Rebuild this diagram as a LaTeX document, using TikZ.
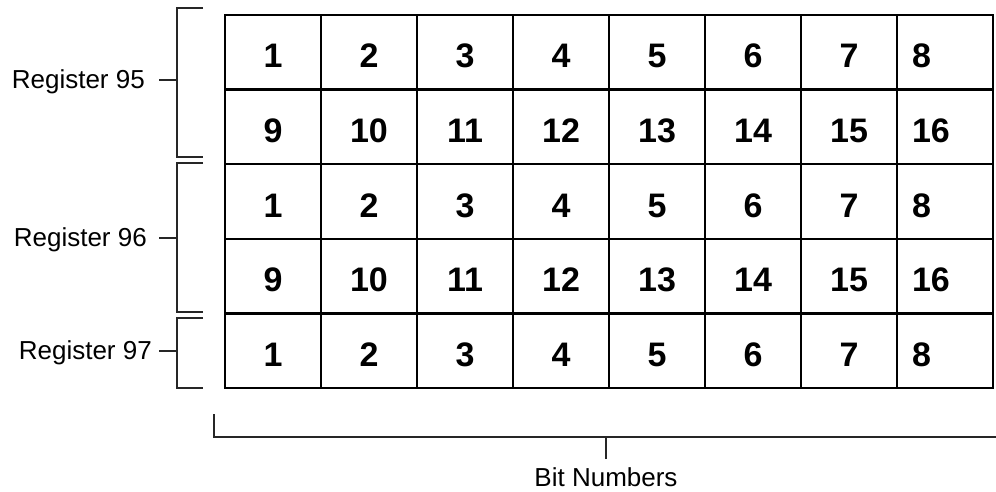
\documentclass[tikz,border=0pt]{standalone}
\usepackage{fontspec}
\setmainfont{Liberation Sans}
\usepackage{tikz}
\usetikzlibrary{positioning,calc}

\begin{document}
\begin{tikzpicture}[
  x=1pt, y=-1pt,
  cell/.style ={draw, line width=2.4pt, minimum width=96pt, minimum height=74.6pt,
                inner sep=0pt, text height=31pt, text depth=0pt,
                font=\fontsize{34}{40}\selectfont\bfseries},
  lastcell/.style={cell, text width=66pt, align=left, inner xsep=15pt},
  reglbl/.style={inner ysep=0pt, anchor=east, yshift=-2pt, font=\fontsize{26}{30}\selectfont},
  brk/.style ={draw=black!85, line width=1.3pt},
]
\useasboundingbox (0,0) rectangle (996,491);

% register cells
\foreach \r/\off in {1/0,2/8,3/0,4/8,5/0} {
  \foreach \c in {1,...,7} {
    \pgfmathtruncatemacro{\bit}{\c+\off}
    \node[cell] (c-\r-\c) at ({225+96*(\c-1)+48},{15+74.6*(\r-1)+37.3}) {\bit};
  }
  \pgfmathtruncatemacro{\bit}{8+\off}
  \node[lastcell] (c-\r-8) at ({225+96*7+48},{15+74.6*(\r-1)+37.3}) {\bit};
}

% register brackets
\node[reglbl, inner xsep=14pt] (r95) at (159,80) {Register 95};
\node[reglbl, inner xsep=12pt] (r96) at (159,238) {Register 96};
\node[reglbl, inner xsep=7pt]  (r97) at (159,351) {Register 97};

\coordinate (b95) at (177,80);
\coordinate (b96) at (177,238);
\coordinate (b97) at (177,351);

\draw[brk] (203,8) -- (177,8) -- (177,157) -- (203,157);
\draw[brk] (203,163) -- (177,163) -- (177,312) -- (203,312);
\draw[brk] (203,318) -- (177,318) -- (177,388) -- (203,388);
\draw[brk] (r95.east) ++(0,-2) -- (b95);
\draw[brk] (r96.east) ++(0,-2) -- (b96);
\draw[brk] (r97.east) ++(0,-2) -- (b97);

% bit number bracket
\coordinate (bn) at (606,437);
\node[inner xsep=0pt, inner ysep=8pt, anchor=north, font=\fontsize{26}{30}\selectfont]
  (bits) at (606,459) {Bit Numbers};
\draw[brk] (214,414) -- (214,437) -- (996,437);
\draw[brk] (bits.north) -- (bn);
\end{tikzpicture}
\end{document}
